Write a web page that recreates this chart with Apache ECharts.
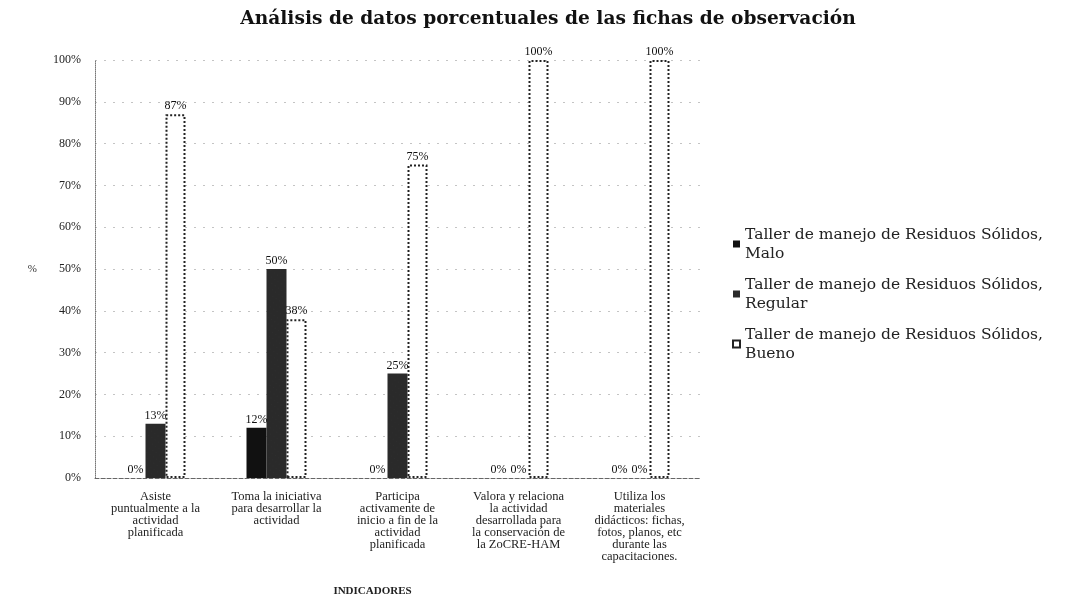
<!DOCTYPE html>
<html>
<head>
<meta charset="utf-8">
<script src="https://cdn.jsdelivr.net/npm/echarts@6/dist/echarts.min.js"></script>
<style>
  html, body { margin: 0; padding: 0; background: #fff; }
  #main { width: 1065px; height: 604px; }
</style>
</head>
<body>
<div id="main"></div>
<script>
// categorías (indicadores)
var categorias = [
  'Asiste\npuntualmente a la\nactividad\nplanificada',
  'Toma la iniciativa\npara desarrollar la\nactividad',
  'Participa\nactivamente de\ninicio a fin de la\nactividad\nplanificada',
  'Valora y relaciona\nla actividad\ndesarrollada para\nla conservación de\nla ZoCRE-HAM',
  'Utiliza los\nmateriales\ndidácticos: fichas,\nfotos, planos, etc\ndurante las\ncapacitaciones.'
];
// valores en %
var malo = [0, 12, 0, 0, 0];
var regular = [13, 50, 25, 0, 0];
var bueno = [87, 38, 75, 100, 100];

var nombres = [
  'Taller de manejo de Residuos Sólidos,\nMalo',
  'Taller de manejo de Residuos Sólidos,\nRegular',
  'Taller de manejo de Residuos Sólidos,\nBueno'
];

var fuente = '"Liberation Serif", "DejaVu Serif", serif';
var fuenteAncha = '"DejaVu Serif", "Liberation Serif", serif';

var myChart = echarts.init(document.getElementById('main'));

function etiqueta() {
  return {
    show: true,
    position: 'top',
    formatter: '{c}%',
    fontFamily: fuente,
    fontSize: 12,
    color: '#111',
    distance: 2
  };
}

var option = {
  backgroundColor: '#fff',
  title: {
    text: 'Análisis de datos porcentuales de las fichas de observación',
    left: 543,
    top: 5,
    textAlign: 'center',
    textStyle: { fontFamily: fuenteAncha, fontSize: 18.6, fontWeight: 'bold', color: '#111' }
  },
  legend: {
    orient: 'vertical',
    left: 727,
    top: 220,
    itemWidth: 7,
    itemHeight: 7,
    itemGap: 12,
    icon: 'rect',
    textStyle: { fontFamily: fuenteAncha, fontSize: 15.5, color: '#222', lineHeight: 19 },
    data: nombres
  },
  grid: {
    left: 95,
    top: 60,
    width: 605,
    bottom: 126
  },
  xAxis: {
    type: 'category',
    data: categorias,
    name: 'INDICADORES',
    nameLocation: 'middle',
    nameGap: 108,
    nameTextStyle: { fontFamily: fuente, fontSize: 11, fontWeight: 'bold', color: '#222', padding: [0, 50, 0, 0] },
    axisLine: { lineStyle: { color: '#666', type: 'dashed', width: 1 } },
    axisTick: { show: false },
    axisLabel: {
      interval: 0,
      fontFamily: fuente,
      fontSize: 12.5,
      lineHeight: 12,
      color: '#222',
      margin: 13
    }
  },
  yAxis: {
    type: 'value',
    min: 0,
    max: 100,
    interval: 10,
    name: '%',
    nameLocation: 'middle',
    nameRotate: 0,
    nameGap: 58,
    nameTextStyle: { fontFamily: fuente, fontSize: 11, color: '#333' },
    axisLine: { show: true, lineStyle: { color: '#777', type: 'dotted', width: 1 } },
    axisTick: { show: false },
    axisLabel: {
      formatter: '{value}%',
      fontFamily: fuente,
      fontSize: 12,
      color: '#222',
      margin: 14
    },
    splitLine: { show: true, lineStyle: { color: '#c4c4c4', type: [2, 7], width: 1 } }
  },
  series: [
    {
      name: nombres[0],
      type: 'bar',
      data: malo,
      barWidth: 20,
      barGap: '0%',
      itemStyle: { color: '#111' },
      label: etiqueta()
    },
    {
      name: nombres[1],
      type: 'bar',
      data: regular,
      barWidth: 20,
      barGap: '0%',
      itemStyle: {
        color: '#2a2a2a',
        decal: { symbol: 'rect', symbolSize: 0.25, color: 'rgba(200,200,200,0.35)', dashArrayX: [1, 3], dashArrayY: [1, 4], rotation: 0.6 }
      },
      label: etiqueta()
    },
    {
      name: nombres[2],
      type: 'bar',
      data: bueno,
      barWidth: 20,
      barGap: '0%',
      itemStyle: { color: '#fff', borderColor: '#222', borderWidth: 2, borderType: 'dotted' },
      label: etiqueta()
    }
  ]
};

myChart.setOption(option);
</script>
</body>
</html>
